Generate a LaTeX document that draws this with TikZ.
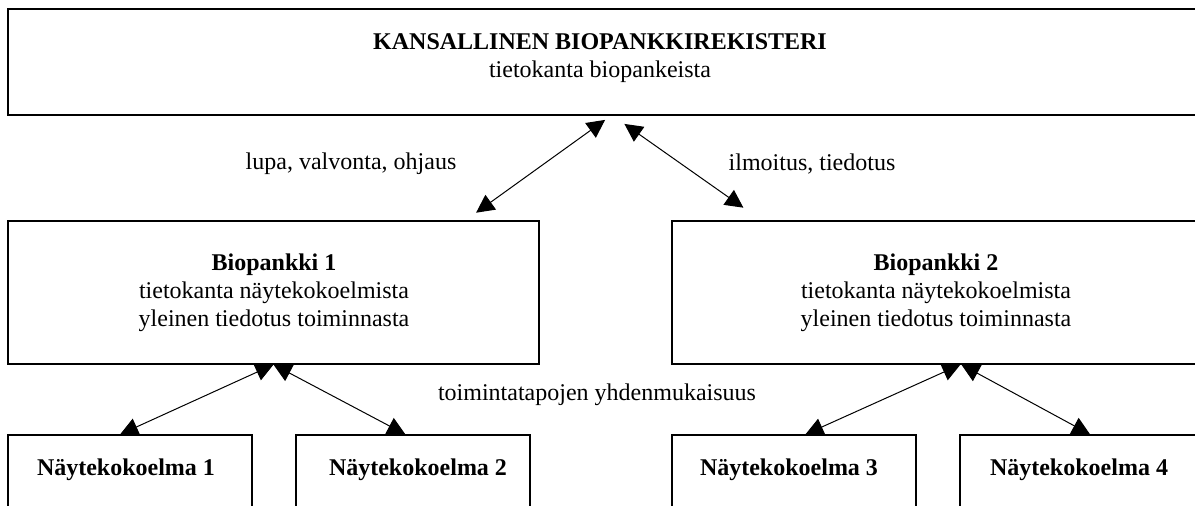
\documentclass[tikz,border=0pt]{standalone}
\usepackage{fontspec}
\setmainfont{Liberation Serif}
\usetikzlibrary{arrows.meta,calc,fit}
\begin{document}
\begin{tikzpicture}[x=0.5pt,y=-0.5pt,
  box/.style={draw=black, line width=0.6pt, fill=white, inner sep=0pt},
  txt/.style={font=\fontsize{12}{14}\selectfont, align=center, inner sep=0pt},
  lbl/.style={font=\fontsize{12}{14}\selectfont, inner sep=0pt},
  conn/.style={line width=0.5pt, {Triangle[length=9pt,width=9pt]}-{Triangle[length=9pt,width=9pt]}}]
\useasboundingbox (0,0) rectangle (1195,505);
\clip (0,0) rectangle (1195,505);
% boxes
\node[box, fit={(8,9) (1222,115)}] (reg) {};
\node[box, fit={(8,221) (539,364)}] (bp1) {};
\node[box, fit={(672,221) (1251,364)}] (bp2) {};
\node[box, fit={(8,435) (252,530)}] (n1) {};
\node[box, fit={(296,435) (530,530)}] (n2) {};
\node[box, fit={(672,435) (916,530)}] (n3) {};
\node[box, fit={(960,435) (1240,530)}] (n4) {};
% texts
\node[txt] (regt) at (600,58) {\textbf{KANSALLINEN BIOPANKKIREKISTERI}\\tietokanta biopankeista};
\node[txt] (bp1t) at (274,293) {\textbf{Biopankki 1}\\tietokanta näytekokoelmista\\yleinen tiedotus toiminnasta};
\node[txt] (bp2t) at (936,293) {\textbf{Biopankki 2}\\tietokanta näytekokoelmista\\yleinen tiedotus toiminnasta};
\node[txt] (n1t) at (126,470) {\textbf{Näytekokoelma 1}};
\node[txt] (n2t) at (418,470) {\textbf{Näytekokoelma 2}};
\node[txt] (n3t) at (789,470) {\textbf{Näytekokoelma 3}};
\node[txt] (n4t) at (1079,470) {\textbf{Näytekokoelma 4}};
\node[lbl] (l1) at (351,164) {lupa, valvonta, ohjaus};
\node[lbl] (l2) at (812,164) {ilmoitus, tiedotus};
\node[lbl] (l3) at (597,395) {toimintatapojen yhdenmukaisuus};
% connectors
\draw[conn] ($(bp1.north west)+(468.7,-7.7)$) -- ($(reg.south west)+(597.7,4.3)$);
\draw[conn] ($(reg.south west)+(617,8.3)$) -- ($(bp2.north west)+(72,-12.7)$);
\draw[conn] ($(n1.north west)+(112.7,0)$) -- (bp1.south);
\draw[conn] (bp1.south) -- ($(n2.north west)+(110,0)$);
\draw[conn] ($(n3.north west)+(134,0)$) -- ($(bp2.south west)+(289,0)$);
\draw[conn] ($(bp2.south west)+(290,0)$) -- ($(n4.north west)+(130.7,0)$);
\end{tikzpicture}
\end{document}
